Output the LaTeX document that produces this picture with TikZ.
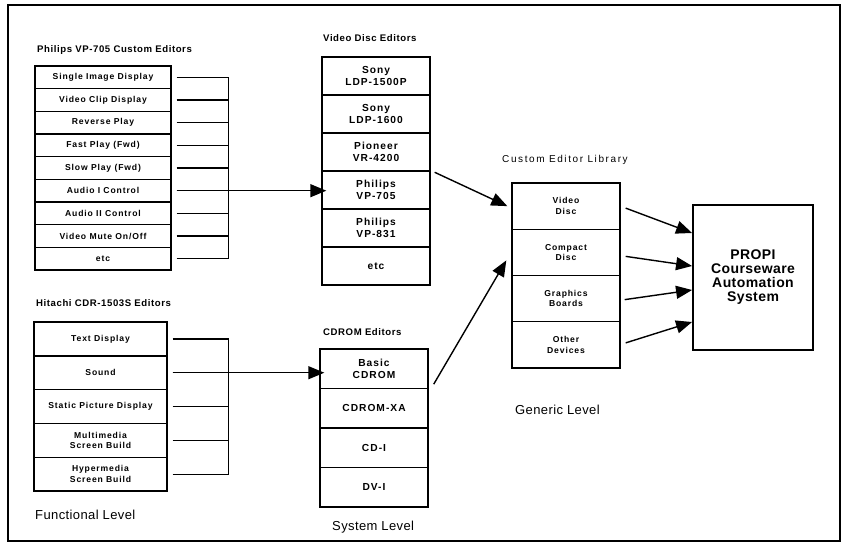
\documentclass[tikz,border=0pt]{standalone}
\usepackage{fontspec}
\setmainfont{Liberation Sans}
\usetikzlibrary{arrows.meta}
\tikzset{
  edframe/.style={line width=1.4pt, draw=black},
  edrow/.style={draw=black, line width=1.4pt, inner sep=0pt, align=center, font=\bfseries\fontsize{8.6}{10.5}\selectfont\addfontfeature{LetterSpace=10}},
  edsysrow/.style={edrow, font=\bfseries\fontsize{10.2}{11.5}\selectfont\addfontfeature{LetterSpace=10}},
  edmain/.style={draw=black, line width=1.9pt, inner sep=0pt, align=center, font=\bfseries\fontsize{14}{14}\selectfont\addfontfeature{LetterSpace=3}},
  edtitle/.style={anchor=west, inner sep=0pt, font=\bfseries\fontsize{9.6}{11}\selectfont\addfontfeature{LetterSpace=6}},
  edlevel/.style={anchor=west, inner sep=0pt, font=\fontsize{13}{15}\selectfont\addfontfeature{LetterSpace=3}},
  edtie/.style={line width=1.2pt, draw=black},
  edfeed/.style={line width=1.4pt, draw=black, -{Triangle[length=16pt,width=13pt]}},
}
\begin{document}
\begin{tikzpicture}[x=1pt, y=-1pt]
\useasboundingbox (0,0) rectangle (850,546);
\draw[edframe] (8,5) rectangle (840,541);

% functional level
\node[edtitle] (ptitle) at (37,50) {Philips VP-705 Custom Editors};
\foreach \lbl [count=\i] in {Single Image Display, Video Clip Display, Reverse Play, Fast Play (Fwd), Slow Play (Fwd), Audio I Control, Audio II Control, Video Mute On/Off, etc}
  \node[edrow, minimum width=136pt, minimum height=22.67pt] (p\i) at (103, {66+22.67*(\i-0.5)}) {\lbl};
\foreach \i in {1,...,9}
  \draw[edtie] ([xshift=5pt]p\i.east) -- ([xshift=57pt]p\i.east);
\draw[edtie] ([xshift=57pt]p1.east) -- ([xshift=57pt]p9.east);

\node[edtitle] (htitle) at (36,303) {Hitachi CDR-1503S Editors};
\foreach \lbl [count=\i] in {Text Display, Sound, Static Picture Display, {Multimedia\\Screen Build}, {Hypermedia\\Screen Build}}
  \node[edrow, minimum width=133pt, minimum height=33.8pt] (h\i) at (100.5, {322+33.8*(\i-0.5)}) {\lbl};
\foreach \i in {1,...,5}
  \draw[edtie] ([xshift=5pt]h\i.east) -- ([xshift=61pt]h\i.east);
\draw[edtie] ([xshift=61pt]h1.east) -- ([xshift=61pt]h5.east);

\node[edlevel] (flevel) at (35,515) {Functional Level};

% system level
\node[edtitle] (vtitle) at (323,38) {Video Disc Editors};
\foreach \lbl [count=\i] in {{Sony\\LDP-1500P}, {Sony\\LDP-1600}, {Pioneer\\VR-4200}, {Philips\\VP-705}, {Philips\\VP-831}, etc}
  \node[edsysrow, minimum width=108pt, minimum height=38pt] (v\i) at (376, {57+38*(\i-0.5)}) {\lbl};

\node[edtitle] (ctitle) at (323,332) {CDROM Editors};
\foreach \lbl [count=\i] in {{Basic\\CDROM}, CDROM-XA, CD-I, DV-I}
  \node[edsysrow, minimum width=108pt, minimum height=39.5pt] (c\i) at (374, {349+39.5*(\i-0.5)}) {\lbl};

\node[edlevel] (slevel) at (332,527) {System Level};

% generic level
\node[edtitle, font=\fontsize{10}{11}\selectfont\addfontfeature{LetterSpace=16}] (ltitle) at (502,160) {Custom Editor Library};
\foreach \lbl [count=\i] in {{Video\\Disc}, {Compact\\Disc}, {Graphics\\Boards}, {Other\\Devices}}
  \node[edrow, minimum width=108pt, minimum height=46.25pt] (l\i) at (566, {183+46.25*(\i-0.5)}) {\lbl};

\node[edlevel] (glevel) at (515,410) {Generic Level};

\node[edmain, minimum width=120pt, minimum height=145pt] (propi) at (753,277.5) {PROPI\\Courseware\\Automation\\System};

% feeds
\draw[edfeed] ([xshift=5pt]p6.east) -- ([xshift=5pt]p6.east -| v4.west);
\draw[edfeed] ([xshift=5pt]h2.east) -- ([xshift=5pt]h2.east -| c1.west);
\draw[edfeed] ([shift={(4pt,-2pt)}]v4.north east) -- ([xshift=-4pt]l1.west);
\draw[edfeed] ([shift={(5pt,5pt)}]c1.south east) -- ([shift={(-5pt,-8pt)}]l2.west);
\draw[edfeed] ([shift={(5pt,-2pt)}]l1.east) -- ([yshift=44.5pt]propi.west);
\draw[edfeed] ([shift={(5pt,-4pt)}]l2.east) -- ([yshift=11.5pt]propi.west);
\draw[edfeed] ([shift={(4pt,-1pt)}]l3.east) -- ([yshift=-12.5pt]propi.west);
\draw[edfeed] ([shift={(5pt,2pt)}]l4.east) -- ([yshift=-44.5pt]propi.west);
\end{tikzpicture}
\end{document}
